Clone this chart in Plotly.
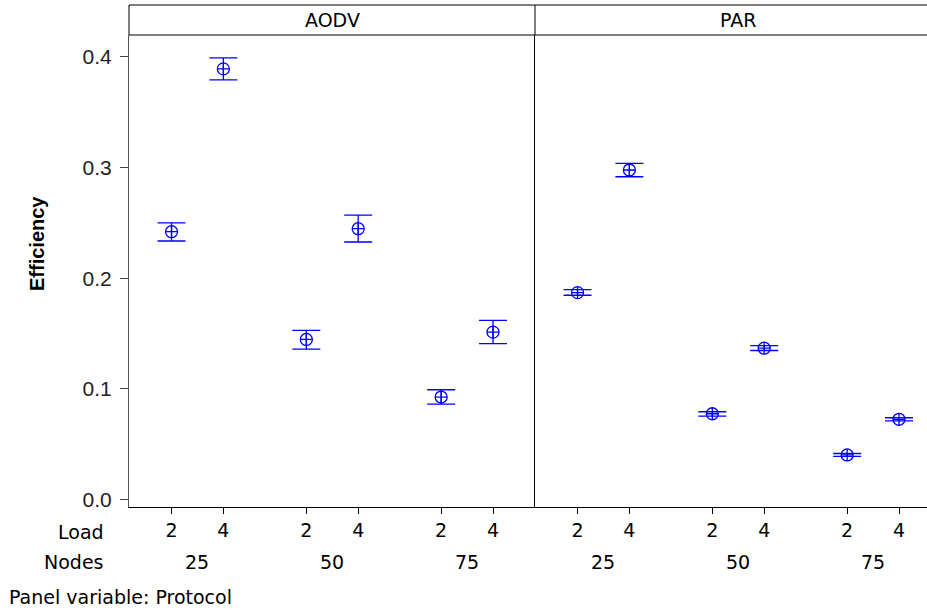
import plotly.graph_objects as go

nodes = [25, 50, 75]
loads = [2, 4]
protocols = ["AODV", "PAR"]

aodv_mean = [0.242, 0.389, 0.1447, 0.2447, 0.0927, 0.1513]
aodv_upper = [0.250, 0.399, 0.1528, 0.257, 0.0993, 0.162]
aodv_lower = [0.2336, 0.379, 0.1359, 0.2327, 0.0863, 0.141]

par_mean = [0.187, 0.2977, 0.0776, 0.1368, 0.0404, 0.0726]
par_upper = [0.1897, 0.3037, 0.0794, 0.1392, 0.0417, 0.0740]
par_lower = [0.1846, 0.2916, 0.0755, 0.1347, 0.0391, 0.0712]

yticks = [0.0, 0.1, 0.2, 0.3, 0.4]

W, H = 927, 613
ML, MR, MT, MB = 129, 0, 35, 106
PW = W - ML - MR
PH = H - MT - MB
panel_px = 406
d = panel_px / PW

GAP = 2.6
xpos = [g * GAP + l for g in range(len(nodes)) for l in range(len(loads))]
xlabels = [str(lv) for _ in nodes for lv in loads]
unit = panel_px / 7.83
r1 = [-0.82, 7.01]
r2 = [-0.82, -0.82 + (PW - panel_px) / unit]

BLUE = "#0000ff"
fig = go.Figure()
series = [(aodv_mean, aodv_upper, aodv_lower), (par_mean, par_upper, par_lower)]
for i, (m, u, lo) in enumerate(series):
    fig.add_trace(go.Scatter(
        x=xpos, y=m, mode="markers",
        xaxis="x" if i == 0 else "x2", yaxis="y" if i == 0 else "y2",
        marker=dict(symbol="circle-cross-open", size=12, color=BLUE,
                    line=dict(color=BLUE, width=1.3)),
        error_y=dict(type="data", symmetric=False,
                     array=[a - b for a, b in zip(u, m)],
                     arrayminus=[b - c for b, c in zip(m, lo)],
                     color=BLUE, thickness=1.3, width=14),
        showlegend=False, hoverinfo="skip"))

tickfont = dict(family="DejaVu Sans", size=19, color="black")
yr = [-(507 - 499.7) / 1107.5, (499.7 - 35) / 1107.5]

xcommon = dict(tickvals=xpos, ticktext=xlabels, ticks="outside", ticklen=6,
               tickcolor="black", showline=True, linecolor="black", linewidth=1,
               showgrid=False, zeroline=False, tickfont=tickfont, fixedrange=True)
fig.update_layout(
    width=W, height=H, margin=dict(l=ML, r=MR, t=MT, b=MB, pad=0),
    plot_bgcolor="white", paper_bgcolor="white",
    xaxis=dict(domain=[0, d], range=r1, anchor="y", **xcommon),
    xaxis2=dict(domain=[d, 1], range=r2, anchor="y2", **xcommon),
    yaxis=dict(range=yr, tickvals=yticks, ticktext=[f"{v:.1f}" for v in yticks],
               ticks="outside", ticklen=8, tickcolor="#444", showline=True,
               linecolor="#555", linewidth=1, showgrid=False, zeroline=False,
               ticklabelstandoff=4, fixedrange=True,
               tickfont=dict(family="Liberation Sans", size=21, color="#222")),
    yaxis2=dict(range=yr, anchor="x2", showline=True, linecolor="black", linewidth=1,
                showticklabels=False, ticks="", showgrid=False, zeroline=False,
                fixedrange=True),
)

strip_top = 1 + 30 / PH
fig.add_shape(type="rect", xref="paper", yref="paper", x0=0, x1=1.01, y0=1, y1=strip_top,
              line=dict(color="black", width=1), fillcolor="white")
fig.add_shape(type="line", xref="paper", yref="paper", x0=d, x1=d, y0=1, y1=strip_top,
              line=dict(color="black", width=1))

stripfont = dict(family="DejaVu Sans", size=19, color="black")
for i, p in enumerate(protocols):
    cx = (panel_px * (i + 0.5)) / PW
    fig.add_annotation(text=p, xref="paper", yref="paper", x=cx, y=(1 + strip_top) / 2,
                       showarrow=False, font=stripfont, xanchor="center", yanchor="middle")

nodes_y = -(562 - 507) / PH
for ax in ["x", "x2"]:
    for g, n in enumerate(nodes):
        fig.add_annotation(text=str(n), xref=ax, yref="paper", x=g * GAP + 0.5, y=nodes_y,
                           showarrow=False, font=tickfont, xanchor="center", yanchor="middle")

lab_x = (106 - ML) / PW
fig.add_annotation(text="Load", xref="paper", yref="paper", x=lab_x, y=-(532 - 507) / PH,
                   showarrow=False, font=tickfont, xanchor="right", yanchor="middle")
fig.add_annotation(text="Nodes", xref="paper", yref="paper", x=lab_x, y=nodes_y,
                   showarrow=False, font=tickfont, xanchor="right", yanchor="middle")
fig.add_annotation(text="Panel variable: Protocol", xref="paper", yref="paper",
                   x=(7 - ML) / PW, y=-(597 - 507) / PH, showarrow=False,
                   font=dict(family="DejaVu Sans", size=19, color="black"),
                   xanchor="left", yanchor="middle")
fig.add_annotation(text="<b>Efficiency</b>", xref="paper", yref="paper",
                   x=(37 - ML) / PW, y=(507 - 244) / PH, textangle=-90, showarrow=False,
                   font=dict(family="Liberation Sans", size=20, color="black"),
                   xanchor="center", yanchor="middle")

fig.write_html("out.html", config={"displayModeBar": False},
               post_script="document.body.style.margin='0px';")
